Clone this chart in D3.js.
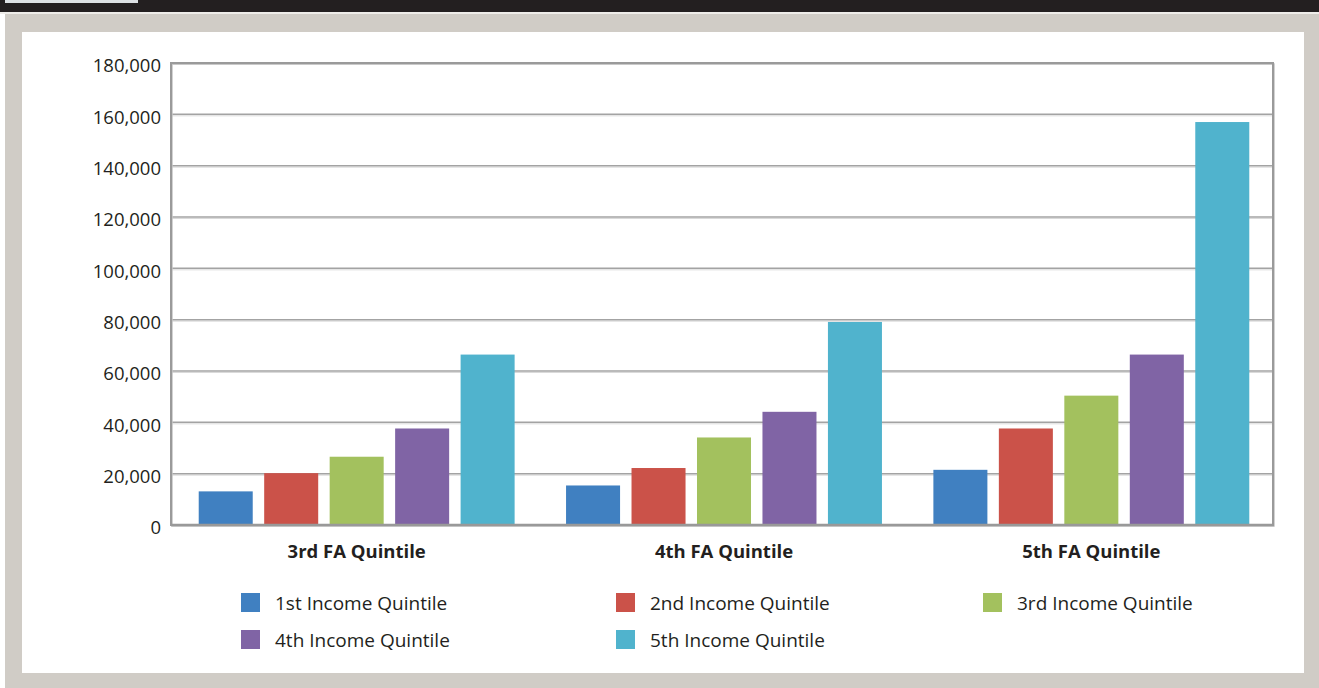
<!DOCTYPE html>
<html>
<head>
<meta charset="utf-8">
<script src="https://cdn.jsdelivr.net/npm/d3@7"></script>
<style>
  html, body { margin: 0; padding: 0; background: #ffffff; }
  svg { display: block; }
  text { font-family: "Open Sans", "Noto Sans", sans-serif; fill: #231f20; }
</style>
</head>
<body>
<svg id="chart" width="1319" height="688"></svg>
<script>
// ---- data ----
const categories = ["3rd FA Quintile", "4th FA Quintile", "5th FA Quintile"];
const seriesNames = ["1st Income Quintile", "2nd Income Quintile", "3rd Income Quintile", "4th Income Quintile", "5th Income Quintile"];
const income1 = [13100, 15400, 21500];
const income2 = [20200, 22200, 37600];
const income3 = [26600, 34100, 50400];
const income4 = [37600, 44100, 66400];
const income5 = [66400, 79100, 157000];
const yTicks = [0, 20000, 40000, 60000, 80000, 100000, 120000, 140000, 160000, 180000];
const colors = ["#4080c1", "#cb5249", "#a3c15e", "#8064a5", "#50b3cd"];

const seriesValues = [income1, income2, income3, income4, income5];
const table = categories.map((c, ci) => ({
  category: c,
  values: seriesNames.map((s, si) => ({ series: s, value: seriesValues[si][ci] }))
}));

const svg = d3.select("#chart");

// ---- frame ----
svg.append("rect").attr("x", 0).attr("y", 0).attr("width", 1319).attr("height", 12).attr("fill", "#231f20");
svg.append("rect").attr("x", 5).attr("y", 0).attr("width", 133).attr("height", 3).attr("fill", "#dde1e4");
svg.append("rect").attr("x", 0).attr("y", 12).attr("width", 1319).attr("height", 2).attr("fill", "#eeece9");
svg.append("rect").attr("x", 5).attr("y", 14).attr("width", 1314).attr("height", 674).attr("fill", "#d0ccc6");
svg.append("rect").attr("x", 22).attr("y", 32).attr("width", 1282).attr("height", 641).attr("fill", "#ffffff");

// ---- scales ----
const plot = { left: 171, right: 1273, top: 63, bottom: 525 };
const x0 = d3.scaleBand().domain(categories).range([plot.left + 2, plot.right + 2]).paddingInner(0.14).paddingOuter(0.07);
const x1 = d3.scaleBand().domain(seriesNames).range([0, x0.bandwidth()]).paddingInner(0.175).paddingOuter(0);
const y = d3.scaleLinear().domain([0, 180000]).range([plot.bottom, plot.top]);
const color = d3.scaleOrdinal().domain(seriesNames).range(colors);

// ---- gridlines ----
const grid = svg.append("g");
grid.selectAll("line.g2").data(yTicks.filter(t => t > 0)).join("line")
  .attr("x1", plot.left).attr("x2", plot.right)
  .attr("y1", d => y(d) + 1.5).attr("y2", d => y(d) + 1.5)
  .attr("stroke", "#dadada").attr("stroke-width", 1);
grid.selectAll("line.g1").data(yTicks.filter(t => t > 0)).join("line")
  .attr("x1", plot.left).attr("x2", plot.right)
  .attr("y1", d => y(d)).attr("y2", d => y(d))
  .attr("stroke", "#a3a3a3").attr("stroke-width", 1.5);

// ---- bars ----
const groups = svg.append("g").selectAll("g").data(table).join("g")
  .attr("transform", d => `translate(${x0(d.category)},0)`);
groups.selectAll("rect").data(d => d.values).join("rect")
  .attr("x", d => x1(d.series))
  .attr("y", d => y(d.value))
  .attr("width", x1.bandwidth())
  .attr("height", d => y(0) - y(d.value))
  .attr("fill", d => color(d.series));

// ---- plot border ----
svg.append("rect")
  .attr("x", plot.left + 1).attr("y", plot.top + 1)
  .attr("width", plot.right - plot.left).attr("height", plot.bottom - plot.top)
  .attr("fill", "none").attr("stroke", "#c4c4c4").attr("stroke-width", 1.5);
svg.append("rect")
  .attr("x", plot.left).attr("y", plot.top)
  .attr("width", plot.right - plot.left).attr("height", plot.bottom - plot.top)
  .attr("fill", "none").attr("stroke", "#9a9a9a").attr("stroke-width", 2);
svg.append("line")
  .attr("x1", plot.left).attr("x2", plot.right + 1)
  .attr("y1", y(0)).attr("y2", y(0))
  .attr("stroke", "#999999").attr("stroke-width", 2.5);

// ---- y axis ----
const yAxis = d3.axisLeft(y).tickValues(yTicks).tickSize(0).tickPadding(10).tickFormat(d3.format(","));
const ya = svg.append("g").attr("transform", `translate(${plot.left},0)`).call(yAxis);
ya.select(".domain").remove();
ya.selectAll("text")
  .attr("dy", "0.32em").attr("y", 3)
  .style("font-size", "18.5px").style("fill", "#231f20")
  .style("font-family", "\"Open Sans\", sans-serif");

// ---- x axis labels ----
const xAxis = d3.axisBottom(x0).tickSize(0).tickPadding(20);
const xa = svg.append("g").attr("transform", `translate(0,${plot.bottom})`).call(xAxis);
xa.select(".domain").remove();
xa.selectAll("text")
  .style("font-size", "18.5px").style("font-weight", "bold").style("fill", "#231f20")
  .style("font-family", "\"Open Sans\", sans-serif");

// ---- legend ----
const legendCols = d3.scaleOrdinal().domain([0, 1, 2]).range([241, 616, 983]);
const legend = svg.append("g");
const items = legend.selectAll("g").data(seriesNames).join("g")
  .attr("transform", (d, i) => `translate(${legendCols(i % 3)},${593 + Math.floor(i / 3) * 37})`);
items.append("rect").attr("width", 19).attr("height", 19).attr("fill", d => color(d));
items.append("text").attr("x", 34).attr("y", 16.5)
  .style("font-size", "19px").text(d => d);
</script>
</body>
</html>
